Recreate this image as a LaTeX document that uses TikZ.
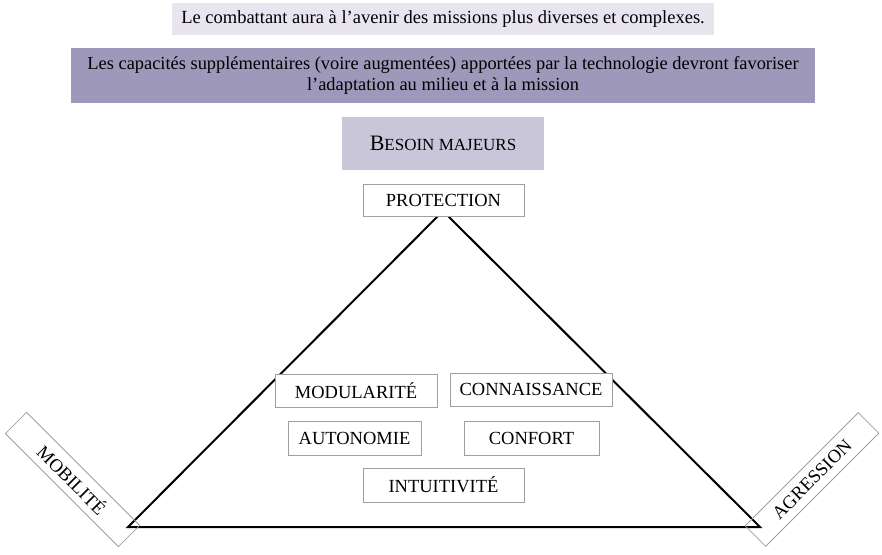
\documentclass[tikz,border=0pt]{standalone}
\usepackage{fontspec}
\setmainfont{Liberation Serif}
\begin{document}
\begin{tikzpicture}[x=1pt,y=-1pt,
  band/.style={draw=none,inner sep=0pt,align=center},
  capbox/.style={draw=gray!75,line width=0.8pt,fill=white,inner sep=0pt,font=\fontsize{18.5}{20}\selectfont},
  tri/.style={line width=2pt,line join=miter}]
\useasboundingbox (0,0) rectangle (882,554);
\node[band,fill={rgb,255:red,232;green,229;blue,238},minimum width=542,minimum height=32,font=\fontsize{18.5}{21}\selectfont] (t1) at (443,19) {Le combattant aura à l’avenir des missions plus diverses et complexes.};
\node[band,fill={rgb,255:red,158;green,152;blue,186},minimum width=744,minimum height=55,font=\fontsize{18.4}{21}\selectfont] (t2) at (443,75.5) {Les capacités supplémentaires (voire augmentées) apportées par la technologie devront favoriser\\l’adaptation au milieu et à la mission};
\node[band,fill={rgb,255:red,202;green,198;blue,218},minimum width=202,minimum height=53] (t3) at (443,143.5) {{\fontsize{22}{24}\selectfont B}{\fontsize{17}{20}\selectfont ESOIN MAJEURS}};
\coordinate (apex) at (443,211);
\coordinate (bl) at (128,527);
\coordinate (br) at (760,527);
\draw[tri] (apex) -- (bl) -- (br) -- cycle;
\node[capbox,minimum width=161,minimum height=32] (prot) at (443.5,200) {PROTECTION};
\node[capbox,minimum width=162,minimum height=33] (mod) at (356,390.5) {MODULARITÉ};
\node[capbox,minimum width=162,minimum height=33] (con) at (531,389.5) {CONNAISSANCE};
\node[capbox,minimum width=133,minimum height=34] (aut) at (354.5,438) {AUTONOMIE};
\node[capbox,minimum width=135,minimum height=34] (cnf) at (531.5,438) {CONFORT};
\node[capbox,minimum width=161,minimum height=34] (int) at (443.5,485) {INTUITIVITÉ};
\node[capbox,fill=none,minimum width=160,minimum height=30,rotate=-45] (mob) at (72.5,479.5) {MOBILITÉ};
\node[capbox,fill=none,minimum width=160,minimum height=29,rotate=45] (agr) at (812,479.5) {AGRESSION};
\end{tikzpicture}
\end{document}
